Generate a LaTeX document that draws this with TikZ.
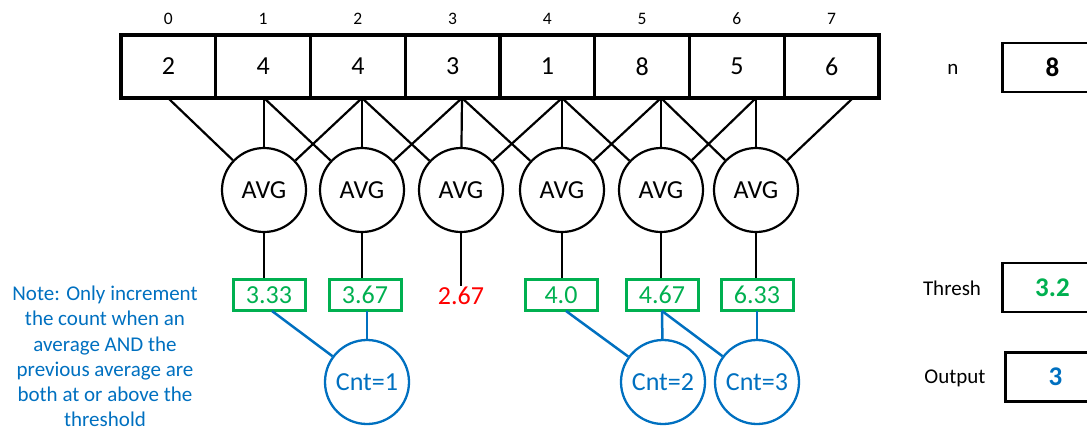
\documentclass[tikz,border=0pt]{standalone}
\usepackage{fontspec}
\setmainfont{Carlito}
\definecolor{grn}{HTML}{00B050}
\definecolor{blu}{HTML}{0070C0}
\definecolor{rd}{HTML}{FF0000}
\begin{document}
\begin{tikzpicture}[x=1pt,y=-1pt,
  cell/.style={draw,line width=3.2pt,minimum width=94.75pt,minimum height=63pt,inner sep=0pt,font=\fontsize{26}{28}\selectfont},
  idx/.style={font=\fontsize{17.5}{20}\selectfont},
  avg/.style={draw,circle,line width=2.2pt,minimum size=84pt,inner sep=0pt,font=\fontsize{26}{28}\selectfont},
  res/.style={draw=grn,text=grn,line width=3pt,minimum width=72pt,minimum height=31pt,inner sep=0pt,font=\fontsize{26}{28}\selectfont},
  cnt/.style={draw=blu,text=blu,circle,line width=2.3pt,minimum size=84pt,inner sep=0pt,font=\fontsize{26}{28}\selectfont},
  wire/.style={line width=2.2pt},
  bwire/.style={draw=blu,line width=2.5pt},
  side/.style={font=\fontsize{21}{24}\selectfont},
  valbox/.style={draw,line width=2.8pt,minimum width=100pt,minimum height=49pt,inner sep=0pt,font=\bfseries\fontsize{27}{29}\selectfont}
]
\useasboundingbox (0,0) rectangle (1087,432);
% array cells
\foreach \v [count=\i from 0] in {2,4,4,3,1,8,5,6}{
  \node[cell] (c\i) at ({168.4+94.75*\i},66.5) {\v};
  \node[idx] (i\i) at ({168.4+94.75*\i},19) {\i};
}
% attach points
\coordinate (a0) at (168,98);
\coordinate (a1) at (264,98);
\coordinate (a2) at (362,98);
\coordinate (a3) at (462,98);
\coordinate (a4) at (562,98);
\coordinate (a5) at (661,98);
\coordinate (a6) at (756,98);
\coordinate (a7) at (853,98);
% AVG circles
\node[avg] (g1) at (264,190) {AVG};
\node[avg] (g2) at (362,190) {AVG};
\node[avg] (g3) at (461,190) {AVG};
\node[avg] (g4) at (562,190) {AVG};
\node[avg] (g5) at (661,190) {AVG};
\node[avg] (g6) at (756,190) {AVG};
\draw[wire] (a0) -- (g1); \draw[wire] (a1) -- (g1); \draw[wire] (a2) -- (g1);
\draw[wire] (a1) -- (g2); \draw[wire] (a2) -- (g2); \draw[wire] (a3) -- (g2);
\draw[wire] (a2) -- (g3); \draw[wire] (a3) -- (g3); \draw[wire] (a4) -- (g3);
\draw[wire] (a3) -- (g4); \draw[wire] (a4) -- (g4); \draw[wire] (a5) -- (g4);
\draw[wire] (a4) -- (g5); \draw[wire] (a5) -- (g5); \draw[wire] (a6) -- (g5);
\draw[wire] (a5) -- (g6); \draw[wire] (a6) -- (g6); \draw[wire] (a7) -- (g6);
% results
\node[res] (r1) at (269,295) {3.33};
\node[res] (r2) at (365,295) {3.67};
\node[text=rd,font=\fontsize{26}{28}\selectfont,inner sep=1pt] (r3) at (461,296) {2.67};
\node[res] (r4) at (561,295) {4.0};
\node[res] (r5) at (662,295) {4.67};
\node[res] (r6) at (757,295) {6.33};
\draw[wire] (g1) -- (g1 |- r1.north);
\draw[wire] (g2) -- (g2 |- r2.north);
\draw[wire] (g3) -- (r3.north);
\draw[wire] (g4) -- (g4 |- r4.north);
\draw[wire] (g5) -- (g5 |- r5.north);
\draw[wire] (g6) -- (g6 |- r6.north);
% counts
\node[cnt] (k1) at (367,382) {Cnt=1};
\node[cnt] (k2) at (663,382) {Cnt=2};
\node[cnt] (k3) at (757,382) {Cnt=3};
\coordinate (b1) at (272,311);
\coordinate (b2) at (367,311);
\coordinate (b4) at (566,311);
\coordinate (b5) at (662,311);
\coordinate (b6) at (757,311);
\draw[bwire] (b1) -- (k1);
\draw[bwire] (b2) -- (k1);
\draw[bwire] (b4) -- (k2);
\draw[bwire] (b5) -- (k2);
\draw[bwire] (b5) -- (k3);
\draw[bwire] (b6) -- (k3);
% note
\node[text=blu,align=center,font=\fontsize{21}{25.3}\selectfont] (note) at (105,356.5)
 {Note: Only increment\\the count when an\\average AND the\\previous average are\\both at or above the\\threshold};
% side values
\node[side] (nl) at (953,69) {n};
\node[valbox,anchor=west] (nv) at (1001,67.5) {8};
\node[side] (tl) at (952,288) {Thresh};
\node[valbox,anchor=west,text=grn] (tv) at (1001,287.5) {3.2};
\node[side] (ol) at (955,378) {Output};
\node[valbox,anchor=west,text=blu] (ov) at (1004,377) {3};
\end{tikzpicture}
\end{document}
